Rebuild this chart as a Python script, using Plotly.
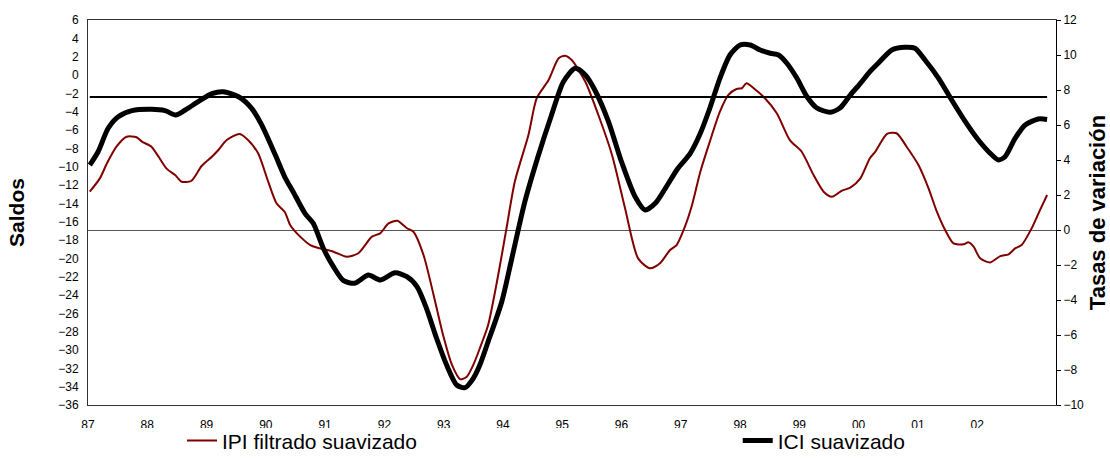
import plotly.graph_objects as go

# ---------------- data ----------------
ICI_YEARS = [
    1987.03, 1987.17, 1987.34, 1987.51, 1987.74, 1988.07, 1988.30, 1988.48, 1988.64, 1988.86,
    1989.09, 1989.28, 1989.54, 1989.76, 1989.93, 1990.16, 1990.32, 1990.46, 1990.66, 1990.80,
    1990.97, 1991.14, 1991.31, 1991.50, 1991.73, 1991.93, 1992.18, 1992.38, 1992.55, 1992.71,
    1992.88, 1993.05, 1993.22, 1993.36, 1993.50, 1993.61, 1993.75, 1993.98, 1994.15, 1994.37,
    1994.60, 1994.82, 1995.02, 1995.22, 1995.39, 1995.55, 1995.78, 1996.00, 1996.23, 1996.40,
    1996.57, 1996.74, 1996.95, 1997.16, 1997.33, 1997.49, 1997.66, 1997.83, 1998.00, 1998.17,
    1998.34, 1998.51, 1998.65, 1998.79, 1998.96, 1999.13, 1999.29, 1999.52, 1999.69, 1999.86,
    2000.03, 2000.19, 2000.33, 2000.56, 2000.78, 2000.95, 2001.12, 2001.35, 2001.57, 2001.80,
    2002.02, 2002.25, 2002.36, 2002.47, 2002.64, 2002.81, 2003.03, 2003.18,
]
ICI_VALUES = [
    -9.82, -8.37, -5.81, -4.55, -3.89, -3.74, -3.89, -4.36, -3.82, -2.91,
    -2.04, -1.82, -2.37, -3.63, -5.45, -8.73, -11.13, -12.73, -15.09, -16.18,
    -18.90, -20.91, -22.44, -22.72, -21.82, -22.36, -21.57, -22.00, -23.09, -25.45,
    -28.72, -31.64, -33.82, -34.11, -33.09, -31.64, -29.09, -24.73, -20.00, -13.82,
    -8.73, -4.36, -0.73, 0.73, 0.00, -1.64, -5.09, -9.46, -13.28, -14.73,
    -14.00, -12.36, -10.20, -8.54, -6.36, -3.63, -0.36, 2.18, 3.27, 3.27,
    2.73, 2.37, 2.18, 1.28, -0.36, -2.37, -3.57, -4.07, -3.57, -2.18,
    -0.91, 0.36, 1.28, 2.73, 3.02, 2.91, 1.64, -0.36, -2.73, -5.09,
    -7.09, -8.73, -9.27, -8.91, -6.91, -5.45, -4.80, -4.85,
]

IPI_YEARS = [
    1987.03, 1987.20, 1987.32, 1987.48, 1987.65, 1987.82, 1987.91, 1988.07, 1988.19, 1988.33,
    1988.47, 1988.58, 1988.74, 1988.92, 1989.09, 1989.20, 1989.34, 1989.56, 1989.70, 1989.87,
    1990.04, 1990.18, 1990.32, 1990.41, 1990.58, 1990.75, 1990.91, 1991.14, 1991.36, 1991.56,
    1991.79, 1991.93, 1992.07, 1992.22, 1992.38, 1992.49, 1992.66, 1992.83, 1992.99, 1993.14,
    1993.28, 1993.39, 1993.50, 1993.61, 1993.75, 1993.92, 1994.06, 1994.20, 1994.43, 1994.57,
    1994.77, 1994.94, 1995.05, 1995.16, 1995.39, 1995.61, 1995.84, 1996.06, 1996.28, 1996.48,
    1996.65, 1996.82, 1996.93, 1997.07, 1997.19, 1997.33, 1997.49, 1997.66, 1997.80, 1997.94,
    1998.03, 1998.11, 1998.23, 1998.42, 1998.62, 1998.84, 1999.04, 1999.24, 1999.41, 1999.55,
    1999.72, 1999.86, 2000.03, 2000.19, 2000.28, 2000.48, 2000.64, 2000.81, 2001.01, 2001.18,
    2001.32, 2001.46, 2001.60, 2001.77, 2001.85, 2001.94, 2002.05, 2002.22, 2002.39, 2002.53,
    2002.64, 2002.75, 2002.92, 2003.06, 2003.18,
]
IPI_VALUES = [
    2.19, 2.95, 3.81, 4.76, 5.33, 5.30, 5.05, 4.76, 4.19, 3.49,
    3.14, 2.76, 2.80, 3.67, 4.19, 4.57, 5.14, 5.49, 5.14, 4.38,
    2.76, 1.53, 1.03, 0.29, -0.38, -0.86, -1.05, -1.24, -1.53, -1.33,
    -0.38, -0.19, 0.38, 0.53, 0.10, -0.10, -1.43, -3.71, -6.00, -7.71,
    -8.53, -8.38, -7.71, -6.76, -5.43, -2.57, 0.10, 2.76, 5.43, 7.53,
    8.57, 9.81, 9.96, 9.71, 8.47, 6.57, 4.29, 1.24, -1.62, -2.19,
    -1.90, -1.14, -0.86, 0.19, 1.43, 3.33, 5.05, 6.76, 7.71, 8.06,
    8.10, 8.38, 8.10, 7.53, 6.67, 5.14, 4.47, 3.14, 2.19, 1.90,
    2.25, 2.42, 2.95, 4.10, 4.47, 5.49, 5.53, 4.76, 3.71, 2.38,
    1.05, 0.00, -0.76, -0.82, -0.70, -0.95, -1.62, -1.85, -1.49, -1.39,
    -1.05, -0.86, 0.10, 1.14, 2.00,
]

ICI_MEAN = -2.4                      # horizontal reference level (Saldos)
MEAN_SPAN = [1987.03, 2003.18]
YEAR_TICKS = list(range(1987, 2003))
YEAR_LABELS = ["87", "88", "89", "90", "91", "92", "93", "94",
               "95", "96", "97", "98", "99", "00", "01", "02"]
LEFT_TICKS = list(range(-36, 7, 2))
RIGHT_TICKS = list(range(-10, 13, 2))

assert len(ICI_YEARS) == len(ICI_VALUES)
assert len(IPI_YEARS) == len(IPI_VALUES)

FONT = "Arial, 'Liberation Sans', sans-serif"

fig = go.Figure()
fig.add_trace(go.Scatter(
    x=IPI_YEARS, y=IPI_VALUES, name="IPI filtrado suavizado", mode="lines",
    line=dict(color="#800000", width=2, shape="spline", smoothing=0.7),
    yaxis="y", legend="legend",
))
fig.add_trace(go.Scatter(
    x=ICI_YEARS, y=ICI_VALUES, name="ICI suavizado", mode="lines",
    line=dict(color="black", width=5, shape="spline", smoothing=0.7),
    yaxis="y2", legend="legend2",
))
fig.add_trace(go.Scatter(
    x=MEAN_SPAN, y=[ICI_MEAN, ICI_MEAN], mode="lines", showlegend=False,
    line=dict(color="black", width=2), yaxis="y2", hoverinfo="skip",
))

legend_common = dict(
    orientation="h", xanchor="left", y=-0.093, yanchor="middle",
    font=dict(size=21), bgcolor="rgba(0,0,0,0)", borderwidth=0,
)

fig.update_layout(
    width=1110, height=458,
    margin=dict(l=88, r=54, t=20, b=53, autoexpand=False),
    paper_bgcolor="white", plot_bgcolor="white",
    font=dict(family=FONT, color="black", size=12),
    xaxis=dict(
        range=[1987, 2003.33], tickvals=YEAR_TICKS, ticktext=YEAR_LABELS,
        showgrid=False, zeroline=False, showline=True, linecolor="#333333",
        linewidth=1, mirror=True, ticks="", tickfont=dict(size=12),
        ticklabelstandoff=9, automargin=False,
    ),
    yaxis=dict(
        side="right", range=[-10, 12], tickvals=RIGHT_TICKS,
        showgrid=False, showline=True, linecolor="black", linewidth=1,
        ticks="outside", ticklen=4, tickcolor="black", tickfont=dict(size=12),
        zeroline=True, zerolinecolor="#555555", zerolinewidth=1.2,
        automargin=False,
        title=dict(text="<b>Tasas de variación</b>", font=dict(size=22), standoff=14),
    ),
    yaxis2=dict(
        overlaying="y", side="left", range=[-36, 6], tickvals=LEFT_TICKS,
        showgrid=False, zeroline=False, showline=True, linecolor="#333333",
        linewidth=1, ticks="", tickfont=dict(size=12), ticklabelstandoff=6,
        automargin=False,
        title=dict(text="<b>Saldos</b>", font=dict(size=21), standoff=27),
    ),
    legend=dict(x=0.0971, **legend_common),
    legend2=dict(x=0.6712, **legend_common),
    shapes=[dict(
        type="rect", xref="paper", yref="paper", x0=-0.2, x1=1.2,
        y0=-0.3, y1=-0.0597, fillcolor="white", line=dict(width=0), layer="above",
    )],
    showlegend=True,
)

fig.write_html(
    "out.html",
    config={"displayModeBar": False},
    post_script="document.body.style.margin='0';",
)
